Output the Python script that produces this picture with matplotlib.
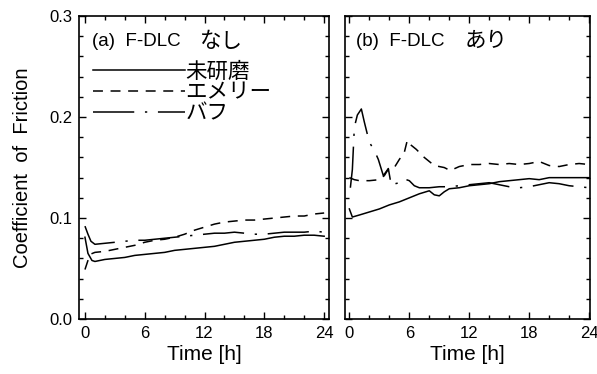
import numpy as np
import matplotlib
matplotlib.use('Agg')
import matplotlib.pyplot as plt
from matplotlib.ticker import MultipleLocator

plt.rcParams['font.family'] = ['Liberation Sans', 'Noto Sans CJK JP', 'DejaVu Sans']

# (a) F-DLC nashi
a_t_solid = [0, 0.3, 0.7, 1, 2, 3, 4, 5, 6, 7, 8, 9, 10, 11, 12, 13, 14, 15, 16, 17, 18, 19, 20, 21, 22, 23, 24]
a_v_solid = [0.081, 0.065, 0.058, 0.057, 0.059, 0.060, 0.061, 0.063, 0.064, 0.065, 0.066, 0.068, 0.069,
             0.070, 0.071, 0.072, 0.074, 0.076, 0.077, 0.078, 0.079, 0.081, 0.082, 0.082, 0.083, 0.083, 0.082]
a_t_dash = [0, 0.3, 0.5, 1, 2, 3, 4, 5, 6, 7, 8, 9, 10, 11, 12, 13, 14, 15, 16, 17, 18, 19, 20, 21, 22, 23, 24]
a_v_dash = [0.049, 0.058, 0.064, 0.066, 0.067, 0.069, 0.071, 0.073, 0.076, 0.078, 0.079, 0.081, 0.084,
            0.088, 0.091, 0.094, 0.096, 0.097, 0.098, 0.098, 0.099, 0.100, 0.101, 0.102, 0.102, 0.104, 0.105]
a_t_dd = [0, 0.3, 0.6, 1, 2, 3, 4, 5, 6, 7, 8, 9, 10, 11, 12, 13, 14, 15, 16, 17, 18, 19, 20, 21, 22, 23, 24]
a_v_dd = [0.092, 0.084, 0.077, 0.074, 0.075, 0.076, 0.077, 0.078, 0.078, 0.079, 0.080, 0.081, 0.082,
          0.083, 0.084, 0.085, 0.085, 0.086, 0.085, 0.084, 0.084, 0.085, 0.086, 0.086, 0.086, 0.087, 0.086]

# (b) F-DLC ari
b_t_solid = [0, 0.3, 1, 2, 3, 4, 5, 6, 7, 8, 8.5, 9, 9.5, 10, 11, 12, 13, 14, 15, 16, 17, 18, 19, 20, 21, 22, 23, 24]
b_v_solid = [0.109, 0.101, 0.103, 0.106, 0.109, 0.113, 0.116, 0.120, 0.124, 0.127, 0.123, 0.122, 0.126, 0.129,
             0.130, 0.132, 0.133, 0.134, 0.136, 0.137, 0.138, 0.139, 0.138, 0.140, 0.140, 0.140, 0.140, 0.140]
b_t_dash = [0, 0.5, 1, 2, 3, 3.5, 4, 4.5, 5, 5.5, 5.8, 6.2, 6.7, 7.5, 8.5, 9.5, 10.1, 11, 12, 13, 14, 15, 16,
            17, 18, 19, 20, 21, 22, 23, 24]
b_v_dash = [0.140, 0.138, 0.137, 0.137, 0.138, 0.142, 0.150, 0.150, 0.158, 0.165, 0.177, 0.172, 0.168, 0.160,
            0.152, 0.150, 0.147, 0.151, 0.153, 0.153, 0.154, 0.153, 0.154, 0.153, 0.154, 0.156, 0.152, 0.151,
            0.153, 0.154, 0.153]
b_t_dd = [0.1, 0.3, 0.5, 0.8, 1.2, 1.5, 2.0, 2.5, 2.9, 3.4, 3.9, 4.2, 4.6, 5.0, 5.4, 6.0, 6.5, 7, 8, 9, 10, 11,
          12, 13, 14, 15, 16, 17, 18, 19, 20, 21, 22, 23, 24]
b_v_dd = [0.130, 0.148, 0.190, 0.202, 0.208, 0.195, 0.175, 0.167, 0.158, 0.142, 0.149, 0.132, 0.134, 0.135,
          0.139, 0.137, 0.132, 0.130, 0.130, 0.131, 0.131, 0.132, 0.133, 0.134, 0.135, 0.133, 0.131, 0.130,
          0.131, 0.133, 0.135, 0.134, 0.132, 0.131, 0.130]

labels = ['未研磨', 'エメリー', 'バフ']
titles_lat = ['(a)  F-DLC', '(b)  F-DLC']
titles_jp = ['なし', 'あり']
xticks = [0, 6, 12, 18, 24]

dash_style = (0, (6.5, 5))
dd_style = (0, (27, 7, 1.5, 7))

fig = plt.figure(figsize=(5.97, 3.74), dpi=100)
ax_a = fig.add_axes([0.1323, 0.147, 0.419, 0.810])
ax_b = fig.add_axes([0.578, 0.147, 0.410, 0.810])

panels = [
    (ax_a, (a_t_solid, a_v_solid), (a_t_dash, a_v_dash), (a_t_dd, a_v_dd), (-0.6, 24.5), 0.053, 0.484),
    (ax_b, (b_t_solid, b_v_solid), (b_t_dash, b_v_dash), (b_t_dd, b_v_dd), (-0.43, 24.07), 0.045, 0.49),
]

for i, (ax, s, d, dd, xl, tx, jx) in enumerate(panels):
    ax.plot(s[0], s[1], color='black', lw=1.1, linestyle='-', label=labels[0])
    ax.plot(d[0], d[1], color='black', lw=1.1, linestyle=dash_style, label=labels[1])
    ax.plot(dd[0], dd[1], color='black', lw=1.1, linestyle=dd_style, label=labels[2])
    ax.set_xlim(*xl)
    ax.set_ylim(0, 0.3)
    ax.set_xticks(xticks)
    ax.xaxis.set_minor_locator(MultipleLocator(2))
    ax.set_yticks([0.0, 0.1, 0.2, 0.3])
    ax.yaxis.set_minor_locator(MultipleLocator(0.02))
    ax.tick_params(which='both', direction='in', top=True, right=True, labelsize=12, width=1.0)
    ax.tick_params(which='major', length=5, pad=5)
    ax.tick_params(which='minor', length=3)
    for sp in ax.spines.values():
        sp.set_linewidth(1.2)
    ax.set_xlabel('Time [h]', fontsize=15, labelpad=3)
    ax.text(tx, 0.915, titles_lat[i], transform=ax.transAxes, fontsize=13.5, va='center', ha='left')
    ax.text(jx, 0.915, titles_jp[i], transform=ax.transAxes, fontsize=15.5, va='center', ha='left')
    if i == 0:
        ax.set_yticklabels(['0.0', '0.1', '0.2', '0.3'])
        ax.set_ylabel('Coefficient  of  Friction', fontsize=14.5, labelpad=12)
        ax.legend(loc='upper left', bbox_to_anchor=(0.055, 0.85), frameon=False, fontsize=15.5,
                  handlelength=4.3, handletextpad=0.0, labelspacing=0.0, borderpad=0, borderaxespad=0)
    else:
        ax.set_yticklabels([])

plt.savefig('out.png', dpi=100)
plt.close()
